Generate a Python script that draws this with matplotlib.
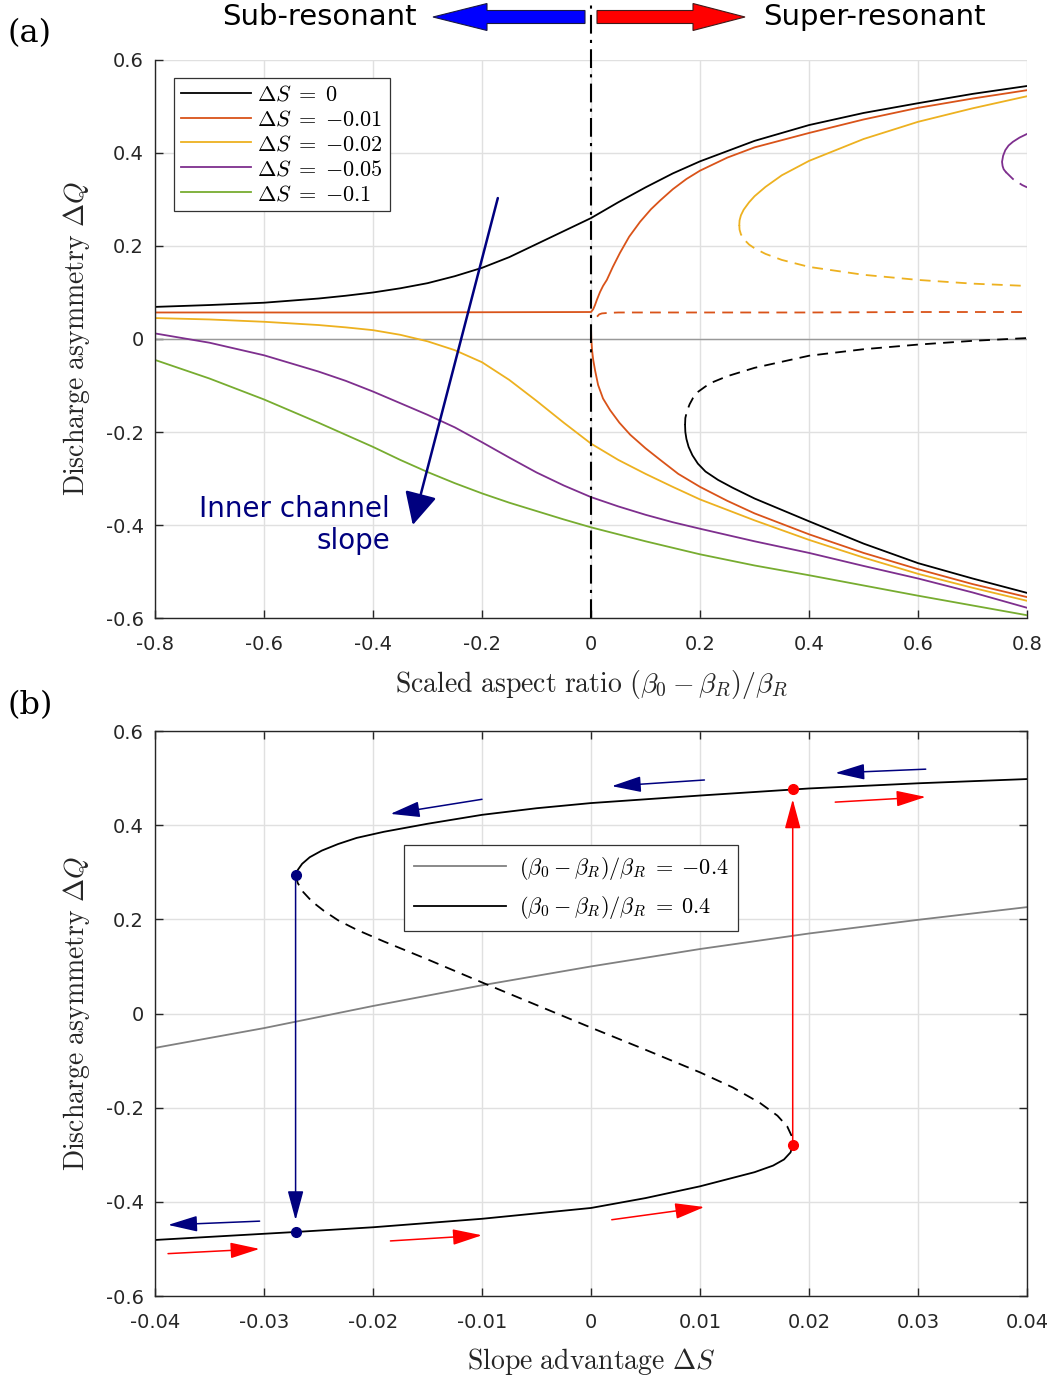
import numpy as np
import matplotlib
matplotlib.use("Agg")
from matplotlib import pyplot as plt
from matplotlib.patches import FancyArrow

plt.rcParams['font.family'] = ['DejaVu Sans']
plt.rcParams['mathtext.fontset'] = 'cm'
plt.rcParams['axes.unicode_minus'] = False

# ---- panel (a) data ----
xa = [-0.8, -0.7, -0.6, -0.5, -0.45, -0.4, -0.35, -0.3, -0.25, -0.2, -0.15, -0.1, -0.05,
      0.0, 0.05, 0.1, 0.15, 0.2, 0.3, 0.4, 0.5, 0.6, 0.7, 0.8]
q0_upper = [0.069, 0.073, 0.078, 0.087, 0.093, 0.100, 0.109, 0.120, 0.135, 0.153, 0.176, 0.204, 0.232,
            0.260, 0.294, 0.326, 0.356, 0.382, 0.426, 0.460, 0.486, 0.507, 0.527, 0.544]
q0_low_x = [0.1725, 0.173, 0.175, 0.179, 0.186, 0.196, 0.21, 0.233, 0.26, 0.30,
            0.40, 0.50, 0.60, 0.70, 0.80]
q0_low_y = [-0.185, -0.200, -0.215, -0.232, -0.250, -0.268, -0.285, -0.303, -0.320, -0.343,
            -0.392, -0.440, -0.482, -0.515, -0.546]
q0_dash_x = [0.1725, 0.173, 0.176, 0.181, 0.187, 0.197, 0.21, 0.225, 0.25, 0.30,
             0.40, 0.50, 0.60, 0.70, 0.80]
q0_dash_y = [-0.185, -0.170, -0.155, -0.140, -0.127, -0.113, -0.102, -0.092, -0.080, -0.062,
             -0.036, -0.022, -0.012, -0.004, 0.002]

q1_left_x = [-0.8, -0.4, 0.0, 0.004, 0.0073, 0.011, 0.0165, 0.022, 0.029, 0.04, 0.053, 0.07,
             0.09, 0.11, 0.127, 0.15, 0.175, 0.2, 0.25, 0.3, 0.4, 0.5, 0.6, 0.7, 0.8]
q1_left_y = [0.057, 0.057, 0.058, 0.064, 0.073, 0.085, 0.101, 0.114, 0.127, 0.155, 0.185, 0.220,
             0.252, 0.279, 0.298, 0.322, 0.344, 0.362, 0.390, 0.412, 0.443, 0.472, 0.497, 0.517, 0.535]
q1_dash_x = [0.011, 0.015, 0.020, 0.03, 0.05, 0.2, 0.4, 0.6, 0.8]
q1_dash_y = [0.048, 0.053, 0.055, 0.056, 0.057, 0.057, 0.057, 0.058, 0.058]
q1_low_x = [0.0, 0.0005, 0.002, 0.004, 0.0075, 0.013, 0.022, 0.035, 0.052, 0.072, 0.10, 0.127,
            0.16, 0.20, 0.25, 0.30, 0.40, 0.50, 0.60, 0.70, 0.80]
q1_low_y = [0.026, 0.0, -0.025, -0.045, -0.068, -0.099, -0.128, -0.153, -0.180, -0.206, -0.235, -0.260,
            -0.290, -0.318, -0.348, -0.375, -0.420, -0.460, -0.495, -0.527, -0.555]

q2_left = [0.045, 0.042, 0.037, 0.030, 0.025, 0.019, 0.009, -0.005, -0.024, -0.050, -0.088, -0.133, -0.180,
           -0.225, -0.260, -0.290, -0.318, -0.345, -0.390, -0.432, -0.470, -0.505, -0.535, -0.563]
q2_up_x = [0.272, 0.2725, 0.275, 0.28, 0.29, 0.30, 0.32, 0.35, 0.40, 0.50, 0.60, 0.70, 0.80]
q2_up_y = [0.245, 0.255, 0.266, 0.278, 0.294, 0.307, 0.327, 0.352, 0.383, 0.430, 0.467, 0.496, 0.522]
q2_dash_x = [0.272, 0.2725, 0.275, 0.28, 0.29, 0.30, 0.32, 0.35, 0.40, 0.50, 0.60, 0.70, 0.80]
q2_dash_y = [0.245, 0.235, 0.225, 0.215, 0.203, 0.195, 0.183, 0.170, 0.155, 0.138, 0.127, 0.119, 0.114]

q5_left = [0.012, -0.008, -0.035, -0.070, -0.090, -0.113, -0.138, -0.163, -0.190, -0.222, -0.255, -0.287, -0.315,
           -0.340, -0.360, -0.378, -0.394, -0.408, -0.435, -0.460, -0.488, -0.515, -0.545, -0.578]
q5_up_x = [0.761, 0.757, 0.755, 0.754, 0.756, 0.76, 0.766, 0.774, 0.786, 0.80]
q5_up_y = [0.359, 0.365, 0.372, 0.381, 0.394, 0.406, 0.416, 0.424, 0.433, 0.441]
q5_dash_x = [0.761, 0.774, 0.791, 0.80]
q5_dash_y = [0.359, 0.344, 0.331, 0.326]

q10_left = [-0.045, -0.085, -0.130, -0.180, -0.206, -0.232, -0.260, -0.286, -0.310, -0.332, -0.352, -0.370, -0.388,
            -0.405, -0.420, -0.435, -0.449, -0.463, -0.487, -0.508, -0.530, -0.552, -0.573, -0.594]

ds_labels = [r'$\Delta S\;=\;{0}$', r'$\Delta S\;=\;{-0.01}$', r'$\Delta S\;=\;{-0.02}$',
             r'$\Delta S\;=\;{-0.05}$', r'$\Delta S\;=\;{-0.1}$']
colors = ['k', '#D95319', '#EDB120', '#7E2F8E', '#77AC30']

# ---- panel (b) data ----
xb_gray = [-0.04, -0.03, -0.02, -0.01, 0.0, 0.01, 0.02, 0.03, 0.04]
qb_gray = [-0.073, -0.031, 0.016, 0.060, 0.100, 0.137, 0.170, 0.199, 0.226]
b_up_x = [-0.0271, -0.0269, -0.0265, -0.0258, -0.0247, -0.0232, -0.0215, -0.019, -0.015,
          -0.01, -0.005, 0.0, 0.01, 0.02, 0.03, 0.04]
b_up_y = [0.294, 0.305, 0.318, 0.332, 0.346, 0.360, 0.373, 0.386, 0.403,
          0.422, 0.436, 0.447, 0.463, 0.478, 0.489, 0.498]
b_mid_x = [-0.0271, -0.0269, -0.0264, -0.0256, -0.0245, -0.0232, -0.0215, -0.019, -0.015, -0.01,
           -0.005, 0.0, 0.005, 0.01, 0.013, 0.0155, 0.0171, 0.018, 0.0184, 0.0185]
b_mid_y = [0.294, 0.277, 0.258, 0.238, 0.218, 0.198, 0.178, 0.153, 0.115, 0.066,
           0.018, -0.030, -0.077, -0.125, -0.157, -0.190, -0.217, -0.240, -0.260, -0.279]
b_low_x = [0.0185, 0.0183, 0.0177, 0.0167, 0.015, 0.0125, 0.01, 0.005, 0.0, -0.01, -0.02, -0.0271, -0.04]
b_low_y = [-0.279, -0.295, -0.310, -0.323, -0.337, -0.352, -0.367, -0.392, -0.413, -0.436, -0.454, -0.464, -0.481]
jump_down = (-0.0271, 0.294, -0.464)
jump_up = (0.0185, -0.279, 0.477)
left_arrows = [((0.0307, 0.519), (0.0224, 0.511)), ((0.0104, 0.496), (0.0019, 0.483)),
               ((-0.010, 0.455), (-0.0184, 0.424)), ((-0.0304, -0.441), (-0.0388, -0.449))]
right_arrows = [((-0.0388, -0.510), (-0.0304, -0.500)), ((-0.0184, -0.483), (-0.010, -0.471)),
                ((0.0019, -0.438), (0.0104, -0.411)), ((0.0224, 0.449), (0.0307, 0.460))]

navy = '#00007F'
lw = 1.3
dash = (6, 4)

fig = plt.figure(figsize=(10.47, 13.78), dpi=100)
axa = fig.add_axes([0.148, 0.5515, 0.833, 0.405])
axb = fig.add_axes([0.148, 0.0595, 0.833, 0.41])

# panel (a)
axa.axhline(0, color='0.6', lw=1)
axa.plot(xa, q0_upper, color=colors[0], lw=lw, label=ds_labels[0])
axa.plot(q0_low_x, q0_low_y, color=colors[0], lw=lw)
axa.plot(q0_dash_x, q0_dash_y, color=colors[0], lw=lw, dashes=dash)
axa.plot(q1_left_x, q1_left_y, color=colors[1], lw=lw, label=ds_labels[1])
axa.plot(q1_dash_x, q1_dash_y, color=colors[1], lw=lw, dashes=dash)
axa.plot(q1_low_x, q1_low_y, color=colors[1], lw=lw)
axa.plot(xa, q2_left, color=colors[2], lw=lw, label=ds_labels[2])
axa.plot(q2_up_x, q2_up_y, color=colors[2], lw=lw)
axa.plot(q2_dash_x, q2_dash_y, color=colors[2], lw=lw, dashes=dash)
axa.plot(xa, q5_left, color=colors[3], lw=lw, label=ds_labels[3])
axa.plot(q5_up_x, q5_up_y, color=colors[3], lw=lw)
axa.plot(q5_dash_x, q5_dash_y, color=colors[3], lw=lw, dashes=dash)
axa.plot(xa, q10_left, color=colors[4], lw=lw, label=ds_labels[4])
axa.plot([0, 0], [-0.6, 0.725], color='k', lw=1.5, dashes=(9, 3, 1.5, 3), clip_on=False)

axa.annotate('', xy=(-0.327, -0.40), xytext=(-0.171, 0.303),
             arrowprops=dict(arrowstyle='-|>,head_length=1.0,head_width=0.5', color=navy,
                             lw=1.8, mutation_scale=20, shrinkA=0, shrinkB=0))
axa.text(-0.369, -0.40, 'Inner channel\nslope', color=navy, fontsize=20,
         ha='right', va='center', multialignment='right', linespacing=1.15)

axa.set_xlim(-0.8, 0.8)
axa.set_ylim(-0.6, 0.6)
axa.set_xticks(np.arange(-0.8, 0.81, 0.2))
axa.set_yticks(np.arange(-0.6, 0.61, 0.2))
axa.set_xticklabels(['-0.8', '-0.6', '-0.4', '-0.2', '0', '0.2', '0.4', '0.6', '0.8'])
axa.set_yticklabels(['-0.6', '-0.4', '-0.2', '0', '0.2', '0.4', '0.6'])
axa.spines['top'].set_visible(False)
axa.spines['right'].set_visible(False)
axa.set_xlabel(r'$\mathrm{Scaled\ aspect\ ratio}\ (\beta_0 - \beta_R)/\beta_R$', fontsize=20)
axa.set_ylabel(r'$\mathrm{Discharge\ asymmetry}\ \Delta Q$', fontsize=20)
leg = axa.legend(loc='upper left', bbox_to_anchor=(0.022, 0.968), fontsize=16,
                 frameon=True, fancybox=False, edgecolor='0.2', framealpha=1,
                 handlelength=3.15, labelspacing=0.22, borderpad=0.3, handletextpad=0.3,
                 borderaxespad=0)
leg.get_frame().set_linewidth(0.9)

# panel (b)
axb.plot(xb_gray, qb_gray, color='0.5', lw=lw, label=r'$(\beta_0 - \beta_R)/\beta_R\;=\;{-0.4}$')
axb.plot(b_up_x, b_up_y, color='k', lw=lw, label=r'$(\beta_0 - \beta_R)/\beta_R\;=\;{0.4}$')
axb.plot(b_mid_x, b_mid_y, color='k', lw=lw, dashes=dash)
axb.plot(b_low_x, b_low_y, color='k', lw=lw)

ar_small = dict(arrowstyle='-|>,head_length=1.3,head_width=0.35', lw=1.1,
                mutation_scale=14, shrinkA=0, shrinkB=0)
for s, e in left_arrows:
    axb.annotate('', xy=e, xytext=s, arrowprops=dict(color=navy, **ar_small))
for s, e in right_arrows:
    axb.annotate('', xy=e, xytext=s, arrowprops=dict(color='red', **ar_small))

axb.annotate('', xy=(jump_down[0], jump_down[2] + 0.025), xytext=(jump_down[0], jump_down[1]),
             arrowprops=dict(color=navy, **ar_small))
axb.annotate('', xy=(jump_up[0], jump_up[2] - 0.022), xytext=(jump_up[0], jump_up[1]),
             arrowprops=dict(color='red', **ar_small))
axb.plot([jump_down[0]] * 2, [jump_down[1], jump_down[2]], 'o', color=navy, ms=7)
axb.plot([jump_up[0]] * 2, [jump_up[1], jump_up[2]], 'o', color='red', ms=7)

axb.set_xlim(-0.04, 0.04)
axb.set_ylim(-0.6, 0.6)
axb.set_xticks(np.arange(-0.04, 0.041, 0.01))
axb.set_yticks(np.arange(-0.6, 0.61, 0.2))
axb.set_xticklabels(['-0.04', '-0.03', '-0.02', '-0.01', '0', '0.01', '0.02', '0.03', '0.04'])
axb.set_yticklabels(['-0.6', '-0.4', '-0.2', '0', '0.2', '0.4', '0.6'])
axb.set_xlabel(r'$\mathrm{Slope\ advantage}\ \Delta S$', fontsize=20)
axb.set_ylabel(r'$\mathrm{Discharge\ asymmetry}\ \Delta Q$', fontsize=20)
leg = axb.legend(loc='upper left', bbox_to_anchor=(0.286, 0.798), fontsize=16,
                 frameon=True, fancybox=False, edgecolor='0.2', framealpha=1,
                 handlelength=4.1, labelspacing=0.55, borderpad=0.45, handletextpad=0.6,
                 borderaxespad=0)
leg.get_frame().set_linewidth(0.9)

for ax, box in ((axa, False), (axb, True)):
    ax.grid(True, color='0.88', lw=1)
    ax.set_axisbelow(True)
    ax.tick_params(direction='in', length=6, width=1, labelsize=14, colors='0.15',
                   top=box, right=box, pad=8)
    ax.tick_params(axis='x', pad=12)
    for sp in ax.spines.values():
        sp.set_color('0.15')
        sp.set_linewidth(1)
    ax.xaxis.label.set_color('0.15')
    ax.yaxis.label.set_color('0.15')

axa.xaxis.labelpad = 10
axb.xaxis.labelpad = 10
axa.yaxis.labelpad = 10
axb.yaxis.labelpad = 10

# top annotations
fig.add_artist(FancyArrow(5.85, 13.61, -1.52, 0, width=0.13, head_width=0.27, head_length=0.54,
                          length_includes_head=True, facecolor='#0000FF', edgecolor='#1a1a40',
                          lw=0.8, transform=fig.dpi_scale_trans))
fig.add_artist(FancyArrow(5.97, 13.61, 1.48, 0, width=0.13, head_width=0.27, head_length=0.52,
                          length_includes_head=True, facecolor='#FF0000', edgecolor='#401a1a',
                          lw=0.8, transform=fig.dpi_scale_trans))
fig.text(417 / 1047, 1 - 17 / 1378, 'Sub-resonant', fontsize=21, ha='right', va='center')
fig.text(763 / 1047, 1 - 17 / 1378, 'Super-resonant', fontsize=21, ha='left', va='center')
fig.text(8 / 1047, 1 - 34 / 1378, '(a)', fontsize=23, family='DejaVu Serif', ha='left', va='center')
fig.text(8 / 1047, 1 - 706 / 1378, '(b)', fontsize=23, family='DejaVu Serif', ha='left', va='center')

fig.savefig('out.png', dpi=100)
